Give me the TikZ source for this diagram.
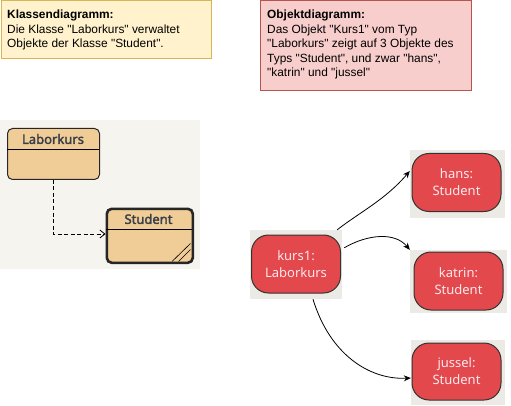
\documentclass[tikz,border=0pt]{standalone}
\usepackage{fontspec}
\setmainfont{Liberation Sans}
\newfontfamily\nodefont{Noto Sans}
\newfontfamily\classfont[FakeBold=2.2]{Noto Sans}
\usetikzlibrary{arrows.meta,calc}
\newcommand\qtd[1]{\textquotedbl#1\textquotedbl}
\definecolor{noteY}{HTML}{FFF2CC}
\definecolor{noteYd}{HTML}{D6B656}
\definecolor{noteR}{HTML}{F8CECC}
\definecolor{noteRd}{HTML}{B85450}
\definecolor{classbg}{HTML}{F5F4EF}
\definecolor{classfill}{HTML}{F0CC96}
\definecolor{classtext}{HTML}{3A3F4A}
\definecolor{objbg}{HTML}{EBEAE5}
\definecolor{objred}{HTML}{E2484C}
\definecolor{objtext}{HTML}{FDE8EE}
\tikzset{
  notetext/.style={anchor=north west,inner sep=0pt,align=left,font=\fontsize{11.9}{14.5}\selectfont},
  objback/.style={fill=objbg,draw=none,inner sep=0pt},
  objnode/.style={fill=objred,draw=black!80,line width=1pt,rounded corners=17pt,inner sep=0pt,
    minimum width=89pt,minimum height=58pt,text=objtext,align=center,
    font=\nodefont\fontsize{13}{17}\selectfont},
  classbox/.style={fill=classfill,draw=black!85,rounded corners=5pt,inner sep=0pt},
  classname/.style={font=\classfont\fontsize{13}{15}\selectfont,text=classtext,inner sep=0pt},
  link/.style={draw=black,line width=0.8pt,-{Stealth[length=7pt,width=6pt]}},
}
\begin{document}
\begin{tikzpicture}[x=1pt,y=-1pt]
\useasboundingbox (0,0) rectangle (511,406);
% notes
\node[fill=noteY,draw=noteYd,line width=1pt,minimum width=210pt,minimum height=58pt,anchor=north west,inner sep=0pt] (noteA) at (0.5,0.5) {};
\node[notetext] (noteAtext) at (7,10) {\textbf{Klassendiagramm:}\\Die Klasse \qtd{Laborkurs} verwaltet\\Objekte der Klasse \qtd{Student}.};
\node[fill=noteR,draw=noteRd,line width=1pt,minimum width=211pt,minimum height=89.5pt,anchor=north west,inner sep=0pt] (noteB) at (260,0.5) {};
\node[notetext] (noteBtext) at (267,10) {\textbf{Objektdiagramm:}\\Das Objekt \qtd{Kurs1} vom Typ\\\qtd{Laborkurs} zeigt auf 3 Objekte des\\Typs \qtd{Student}, und zwar \qtd{hans},\\\qtd{katrin} und \qtd{jussel}};
% class diagram
\node[fill=classbg,minimum width=200pt,minimum height=149pt,anchor=north west,inner sep=0pt] (classarea) at (0,120) {};
\node[classbox,line width=1pt,minimum width=92pt,minimum height=51pt,anchor=north west] (labor) at (7,128) {};
\draw[line width=0.8pt] (7,149) -- (99,149);
\node[classname] (laborname) at (53,139) {Laborkurs};
\node[classbox,line width=2.6pt,minimum width=86pt,minimum height=54pt,anchor=north west] (student) at (105.5,207.5) {};
\draw[line width=0.8pt] (105.5,229) -- (191.5,229);
\node[classname] (studentname) at (148.5,219) {Student};
\draw[line width=0.6pt] (172,261.5) -- (190.5,243.5) (178.5,261.5) -- (190.5,249.5);
\draw[dashed,line width=0.8pt,dash pattern=on 4pt off 2.5pt,-{Straight Barb[length=5pt,width=8pt]}] (labor.south -| 53,0) |- (student.west |- 0,234);
% object diagram
\node[objback,minimum width=92pt,minimum height=69pt] (kbg) at (296,264.5) {};
\node[objnode] (kurs1) at (296,264) {kurs1:\\Laborkurs};
\node[objback,minimum width=95pt,minimum height=68pt] (hbg) at (457.5,184) {};
\node[objnode] (hans) at (456.5,182.5) {hans:\\Student};
\node[objback,minimum width=97pt,minimum height=63pt] (kabg) at (458.5,281.5) {};
\node[objnode] (katrin) at (458.5,281) {katrin:\\Student};
\node[objback,minimum width=94pt,minimum height=65pt] (jbg) at (458,372.5) {};
\node[objnode,minimum height=57pt] (jussel) at (456.5,371.5) {jussel:\\Student};
\draw[link] ([xshift=-5pt]kbg.north east) .. controls (360,212) and (385,200) .. ([yshift=13pt]hbg.west);
\draw[link] ([xshift=2pt,yshift=-18pt]kbg.north east) .. controls (368,234) and (395,232) .. (kabg.north west);
\draw[link] ([xshift=17pt]kbg.south) .. controls (330,355) and (370,380) .. ([yshift=-5.5pt]jbg.west);
\end{tikzpicture}
\end{document}
